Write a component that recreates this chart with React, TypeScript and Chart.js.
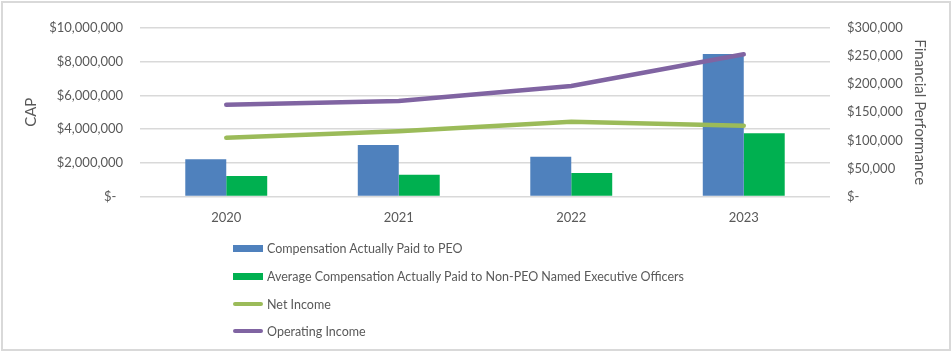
import React, { useEffect, useRef } from "react";
import { Chart, registerables } from "chart.js";

Chart.register(...registerables);

const categories = ["2020", "2021", "2022", "2023"];
const peoCap = [2210000, 3060000, 2360000, 8460000];
const neoCap = [1220000, 1290000, 1390000, 3750000];
const netIncome = [104700, 116100, 133200, 126000];
const operatingIncome = [163400, 170000, 196700, 253200];

const seriesNames = [
  "Compensation Actually Paid to PEO",
  "Average Compensation Actually Paid to Non-PEO Named Executive Officers",
  "Net Income",
  "Operating Income",
];
const colors = ["#4F81BD", "#00B050", "#9BBB59", "#8064A2"];

const FONT = "Lato, 'Open Sans', sans-serif";
const TEXT = "#595959";
const GRID = "#D9D9D9";

const fmt = (v: number) => (v === 0 ? "$-" : "$" + v.toLocaleString("en-US"));

export default function App() {
  const ref = useRef<HTMLCanvasElement | null>(null);

  useEffect(() => {
    if (!ref.current) return;
    const chart = new Chart(ref.current, {
      type: "bar",
      data: {
        labels: categories,
        datasets: [
          {
            type: "line",
            label: seriesNames[2],
            data: netIncome,
            yAxisID: "y1",
            borderColor: colors[2],
            backgroundColor: colors[2],
            borderWidth: 4.5,
            borderCapStyle: "round",
            pointRadius: 0,
            tension: 0,
            order: 0,
          },
          {
            type: "line",
            label: seriesNames[3],
            data: operatingIncome,
            yAxisID: "y1",
            borderColor: colors[3],
            backgroundColor: colors[3],
            borderWidth: 4.5,
            borderCapStyle: "round",
            pointRadius: 0,
            tension: 0,
            order: 0,
          },
          {
            type: "bar",
            label: seriesNames[0],
            data: peoCap,
            yAxisID: "y",
            backgroundColor: colors[0],
            categoryPercentage: 0.475,
            barPercentage: 1,
            order: 1,
          },
          {
            type: "bar",
            label: seriesNames[1],
            data: neoCap,
            yAxisID: "y",
            backgroundColor: colors[1],
            categoryPercentage: 0.475,
            barPercentage: 1,
            order: 1,
          },
        ],
      },
      options: {
        animation: false,
        responsive: true,
        maintainAspectRatio: false,
        layout: { padding: { top: 28, left: 0, right: 0, bottom: 125.5 } },
        plugins: { legend: { display: false }, tooltip: { enabled: false } },
        scales: {
          x: {
            grid: { display: false, drawTicks: false },
            border: { display: false },
            ticks: { color: TEXT, font: { family: FONT, size: 13 }, padding: 13.5 },
            afterFit: (s: any) => {
              s.height = 30;
            },
          },
          y: {
            position: "left",
            min: 0,
            max: 10000000,
            grid: { color: GRID, lineWidth: 1.5, drawTicks: false },
            border: { display: false },
            ticks: {
              stepSize: 2000000,
              color: TEXT,
              font: { family: FONT, size: 13 },
              padding: 17,
              callback: (v: any) => (Number(v) === 0 ? "$-  " : fmt(Number(v))),
            },
            title: {
              display: true,
              text: "CAP",
              color: TEXT,
              font: { family: FONT, size: 15 },
              padding: { top: 22.3, bottom: 0 },
            },
            afterFit: (s: any) => {
              s.width = 140;
            },
          },
          y1: {
            position: "right",
            min: 0,
            max: 300000,
            grid: { display: false, drawTicks: false },
            border: { display: false },
            ticks: {
              stepSize: 50000,
              color: TEXT,
              font: { family: FONT, size: 13 },
              padding: 17,
              callback: (v: any) => fmt(Number(v)),
            },
            title: {
              display: true,
              text: "Financial Performance",
              color: TEXT,
              font: { family: FONT, size: 15 },
              padding: { top: 23.3, bottom: 0 },
            },
            afterFit: (s: any) => {
              s.width = 122;
            },
          },
        },
      },
    });
    return () => chart.destroy();
  }, []);

  const legendTops = [248, 276, 304, 331];

  return (
    <div
      style={{
        position: "absolute",
        left: 0,
        top: 0,
        width: 952,
        height: 352,
        background: "#fff",
        fontFamily: FONT,
      }}
    >
      <div
        style={{
          position: "absolute",
          left: 1,
          top: 1,
          width: 946,
          height: 346,
          border: "2px solid " + GRID,
        }}
      />
      <div style={{ position: "absolute", left: 0, top: 0, width: 952, height: 352 }}>
        <canvas ref={ref} />
      </div>
      {seriesNames.map((name, i) => (
        <div
          key={name}
          style={{
            position: "absolute",
            left: 233,
            top: legendTops[i] - 10,
            height: 20,
            display: "flex",
            alignItems: "center",
            whiteSpace: "nowrap",
            color: TEXT,
            fontSize: 12.5,
          }}
        >
          <span
            style={{
              display: "inline-block",
              width: 30,
              height: i < 2 ? 7 : 4,
              borderRadius: i < 2 ? 0 : 2,
              background: colors[i],
              marginRight: 4,
            }}
          />
          <span>{name}</span>
        </div>
      ))}
    </div>
  );
}
